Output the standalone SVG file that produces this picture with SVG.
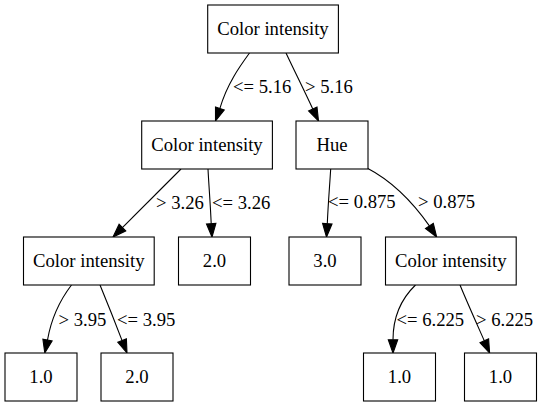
<svg xmlns="http://www.w3.org/2000/svg" width="541" height="407" viewBox="0 0 541 407">
<style>
.n rect{fill:#fff;stroke:#000;stroke-width:1.1}
.n text,.lbl{font-family:'Liberation Serif','Times New Roman',Times,'Nimbus Roman','DejaVu Serif',serif;font-size:18.67px;fill:#000}
.n text{text-anchor:middle}
.e path{fill:none;stroke:#000;stroke-width:1.1}
.e polygon{fill:#000;stroke:#000;stroke-width:1.1}
</style>
<rect width="541" height="407" fill="#fff"/>
<g id="edges" class="e">
<path d="M249.5,53 C240,66 227,84 219.9,108.4"/><polygon points="224.3,109.9 215.5,121 215.5,106.9"/>
<path d="M286,53 C294,70 303,88 312.8,109"/><polygon points="317,107 318.5,121 308.6,111"/>
<path d="M181,169 C161,189 140,210 122.4,227.6"/><polygon points="125.7,230.9 113,237 119.1,224.3"/>
<path d="M208,169 C209,188 210.5,206 211.2,223.7"/><polygon points="215.9,223.4 212,237 206.5,224"/>
<path d="M330.7,169 C329.5,188 328,206 327.3,223.7"/><polygon points="332,224 326.5,237 322.6,223.4"/>
<path d="M367,168 C392,181 414,204 429.4,225.9"/><polygon points="433.3,223.3 436.7,237 425.5,228.5"/>
<path d="M71.5,285 C60,300 51,320 47.5,340"/><polygon points="52.1,340.9 44.8,353 42.9,339.1"/>
<path d="M100,285 C107,302 115,322 122.1,340.6"/><polygon points="126.4,338.9 127,353 117.8,342.3"/>
<path d="M415.5,285 C400,300 393,318 393,339.7"/><polygon points="397.7,339.7 393,353 388.3,339.7"/>
<path d="M460,285 C467,302 476,322 484.3,340.8"/><polygon points="488.6,338.9 489.6,353 480,342.7"/>
<text class="lbl" x="233" y="93">&lt;= 5.16</text>
<text class="lbl" x="305" y="93">&gt; 5.16</text>
<text class="lbl" x="156" y="209">&gt; 3.26</text>
<text class="lbl" x="212" y="209">&lt;= 3.26</text>
<text class="lbl" x="328" y="208">&lt;= 0.875</text>
<text class="lbl" x="418" y="208">&gt; 0.875</text>
<text class="lbl" x="58.6" y="326">&gt; 3.95</text>
<text class="lbl" x="117" y="326">&lt;= 3.95</text>
<text class="lbl" x="396.5" y="326">&lt;= 6.225</text>
<text class="lbl" x="476" y="326">&gt; 6.225</text>
</g>
<g id="n0" class="n"><rect x="207.7" y="5" width="130.7" height="48"/><text x="273" y="35">Color intensity</text></g>
<g id="n1" class="n"><rect x="141.7" y="121" width="130.7" height="48"/><text x="207" y="151">Color intensity</text></g>
<g id="n2" class="n"><rect x="296" y="121" width="72" height="48"/><text x="332" y="151">Hue</text></g>
<g id="n3" class="n"><rect x="23.5" y="237" width="130.7" height="48"/><text x="88.8" y="267">Color intensity</text></g>
<g id="n4" class="n"><rect x="178.5" y="237" width="72" height="48"/><text x="214.5" y="267">2.0</text></g>
<g id="n5" class="n"><rect x="289" y="237" width="72" height="48"/><text x="325" y="267">3.0</text></g>
<g id="n6" class="n"><rect x="385.5" y="237" width="130.7" height="48"/><text x="450.8" y="267">Color intensity</text></g>
<g id="n7" class="n"><rect x="5" y="353" width="72" height="48"/><text x="41" y="383">1.0</text></g>
<g id="n8" class="n"><rect x="101" y="353" width="72" height="48"/><text x="137" y="383">2.0</text></g>
<g id="n9" class="n"><rect x="363.5" y="353" width="72" height="48"/><text x="399.5" y="383">1.0</text></g>
<g id="n10" class="n"><rect x="464.5" y="353" width="72" height="48"/><text x="500.5" y="383">1.0</text></g>
</svg>
